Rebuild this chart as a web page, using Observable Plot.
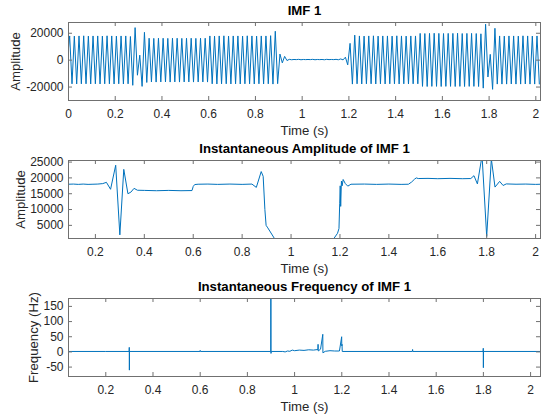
<!DOCTYPE html>
<html><head><meta charset="utf-8">
<script src="https://cdn.jsdelivr.net/npm/d3@7"></script>
<script src="https://cdn.jsdelivr.net/npm/@observablehq/plot@0.6"></script>
<style>
html,body{margin:0;padding:0;background:#fff;}
#chart{position:relative;width:542px;height:414px;overflow:hidden;background:#fff;}
#chart svg{position:absolute;left:0;}
</style></head><body><div id="chart"></div>
<script>
// ---------- data ----------
const timeTicks = [0, 0.2, 0.4, 0.6, 0.8, 1, 1.2, 1.4, 1.6, 1.8, 2];
const imfTicks = [-20000, 0, 20000];
const ampTicks = [5000, 10000, 15000, 20000, 25000];
const freqTicks = [-50, 0, 50, 100, 150];

const titles = ["IMF 1", "Instantaneous Amplitude of IMF 1", "Instantaneous Frequency of IMF 1"];
const yLabels = ["Amplitude", "Amplitude", "Frequency (Hz)"];
const xLabel = "Time (s)";

// IMF 1: value at t = 0, then one extreme (peak / trough) every half cycle (0.01 s) from t = 0.005 s
const imfStartValue = 9000;
const imfFirstTime = 0.005;
const imfHalfCycle = 0.01;
const imfExtrema = [
  18000,-17600,17900,-17700,18000,-17600,18100,-17600,17900,-17700,18000,-17600,18000,-17700,17900,-17600,18100,-17600,18000,-17700,17900,-17600,18000,-17700,18000,-17600,17600,
  -18700,24200,-11200,3700,-19500,20700,-16600,
  16300,-16200,16200,-16300,16300,-16200,16300,-16200,16200,-16300,16300,-16200,16300,-16300,16200,-16200,16300,-16200,16300,-16300,16200,-16200,16300,-16200,16300,-16300,
  18000,-17600,17900,-17700,18000,-17600,18100,-17600,17900,-17700,18000,-17600,18000,-17700,17900,-17600,18100,-17600,18000,-17700,17900,-17600,18000,-17700,18000,-17600,18200,-17800,
  21500,-17500,4500,-2000,2800,-300,
  600,300,500,400,600,300,500,400,500,400,600,300,500,400,500,300,600,400,500,400,600,300,900,200,
  2200,-3500,12500,-17800,18600,
  -17600,18000,-17700,17900,-17600,18000,-17600,18100,-17700,17900,-17600,18000,-17700,18000,-17600,17900,-17600,18100,-17700,18000,-17600,17900,-17700,18000,-17600,18000,-17600,
  19900,-19500,19800,-19600,19900,-19500,20000,-19500,19900,-19600,19800,-19500,19900,-19500,19900,-19600,20000,-19500,19800,-19600,19900,-19500,19900,-19500,19800,-19600,19600,
  -20800,26700,-12500,4300,-21700,23700,-17800,
  18000,-17800,17900,-17800,18000,-17700,18000,-17800,17900,-17800,18100,-17700,18000,-17800,17900,-17800,18000,-17700
];

// Instantaneous amplitude
const ampTime = [0.09,0.11,0.13,0.15,0.17,0.19,0.21,0.23,0.245,0.262,0.283,0.300,0.316,0.333,0.345,0.358,0.372,0.40,0.45,0.50,0.55,0.595,0.600,0.606,0.62,0.66,0.70,0.75,0.80,0.84,0.858,0.878,0.886,0.893,0.898,0.905,0.935,0.96,1.0,1.05,1.10,1.15,1.172,1.190,1.196,1.199,1.201,1.203,1.206,1.209,1.213,1.222,1.232,1.245,1.30,1.35,1.40,1.45,1.48,1.493,1.505,1.512,1.52,1.56,1.60,1.65,1.70,1.735,1.748,1.762,1.781,1.800,1.819,1.834,1.853,1.867,1.88,1.92,1.96,2.00,2.02];
const ampValue = [18000,18050,17950,18050,17950,18000,18050,18200,18600,16400,24000,2000,22700,15000,15500,16700,16100,16050,15950,16050,15950,16000,17300,17900,18000,18050,17950,18050,17950,18050,17000,22000,20500,10000,5000,4200,500,400,500,450,500,400,500,2500,4000,12000,17500,11000,19000,17500,19500,18200,17400,18000,18050,17950,18050,17950,18000,18700,19600,20000,19800,19850,19750,19850,19750,19800,20700,18100,27000,1500,26000,17100,18900,17600,18100,18000,18050,17950,18000];

// Instantaneous frequency
const freqTime = [0.042,0.20,0.299,0.2995,0.3,0.3005,0.599,0.6,0.601,0.899,0.8995,0.9,0.901,0.95,0.96,0.97,0.98,0.99,1.0,1.02,1.04,1.06,1.08,1.099,1.0995,1.1,1.11,1.1195,1.12,1.13,1.15,1.17,1.19,1.1995,1.2,1.201,1.202,1.499,1.5,1.501,1.799,1.7995,1.8,1.8005,2.042];
const freqValue = [1.5,1.5,1.5,15,-60,1.5,1.5,5,1.5,1.5,200,-5,1.5,1.5,0,3,2,6,4,6,5,7,6,8,25,3,9,58,-3,2,4,3,3,50,20,25,1.5,1.5,8,1.5,1.5,12,-52,1.5,1.5];

// ---------- build ----------
const imfData = [{t: 0, v: imfStartValue}].concat(imfExtrema.map((v, i) => ({t: imfFirstTime + i * imfHalfCycle, v})));
const ampData = ampTime.map((t, i) => ({t, v: ampValue[i]}));
const freqData = freqTime.map((t, i) => ({t, v: freqValue[i]}));

const FONT = "'Liberation Sans', Arial, Helvetica, sans-serif";
const BLUE = "#0072BD", TXT = "#262626", BOX = "#707070";
const W = 542, ML = 68, MR = 2, TICK = 4;

function panel(cfg) {
  const {top, height, marginTop, marginBottom, xDomain, yDomain, yTicks, data, title, ylabel, ylabelX} = cfg;
  const fw = W - ML - MR, fh = height - marginTop - marginBottom;
  const xt = timeTicks.filter(d => d >= xDomain[0] - 1e-9 && d <= xDomain[1] + 1e-9);
  const fmt = d => String(d);
  const svg = Plot.plot({
    width: W, height, marginLeft: ML, marginRight: MR, marginTop, marginBottom,
    style: {fontFamily: FONT, fontSize: "12px", background: "transparent", overflow: "visible"},
    x: {domain: xDomain},
    y: {domain: yDomain},
    marks: [
      Plot.line(data, {x: "t", y: "v", stroke: BLUE, strokeWidth: 1, clip: true}),
      Plot.gridX(xt, {stroke: BOX, strokeOpacity: 1, insetTop: fh - TICK}),
      Plot.gridX(xt, {stroke: BOX, strokeOpacity: 1, insetBottom: fh - TICK}),
      Plot.gridY(yTicks, {stroke: BOX, strokeOpacity: 1, insetRight: fw - TICK}),
      Plot.gridY(yTicks, {stroke: BOX, strokeOpacity: 1, insetLeft: fw - TICK}),
      Plot.frame({stroke: BOX}),
      Plot.axisX(xt, {tickSize: 0, tickPadding: 9, tickFormat: fmt, fill: TXT, fontSize: 12, label: null}),
      Plot.axisY(yTicks, {tickSize: 0, tickPadding: 5, tickFormat: fmt, fill: TXT, fontSize: 12, label: null}),
      Plot.text([title], {text: d => d, frameAnchor: "top", lineAnchor: "middle", dy: -11.5, fontWeight: "bold", fontSize: 13.2, fill: "#000"}),
      Plot.text([xLabel], {text: d => d, frameAnchor: "bottom", lineAnchor: "middle", dy: 30, fontSize: 13.2, fill: TXT}),
      Plot.text([ylabel], {text: d => d, frameAnchor: "left", textAnchor: "middle", dx: ylabelX - ML, rotate: -90, fontSize: 13.2, fill: TXT})
    ]
  });
  svg.style.top = top + "px";
  document.getElementById("chart").appendChild(svg);
}

panel({top: 0, height: 140, marginTop: 22, marginBottom: 40, xDomain: [0, 2.02], yDomain: [-30000, 28000],
  yTicks: imfTicks, data: imfData, title: titles[0], ylabel: yLabels[0], ylabelX: 15});
panel({top: 140, height: 140, marginTop: 20, marginBottom: 42, xDomain: [0.09, 2.02], yDomain: [850, 25500],
  yTicks: ampTicks, data: ampData, title: titles[1], ylabel: yLabels[1], ylabelX: 20});
panel({top: 280, height: 134, marginTop: 18, marginBottom: 38, xDomain: [0.042, 2.042], yDomain: [-81, 176],
  yTicks: freqTicks, data: freqData, title: titles[2], ylabel: yLabels[2], ylabelX: 33});
</script></body></html>
